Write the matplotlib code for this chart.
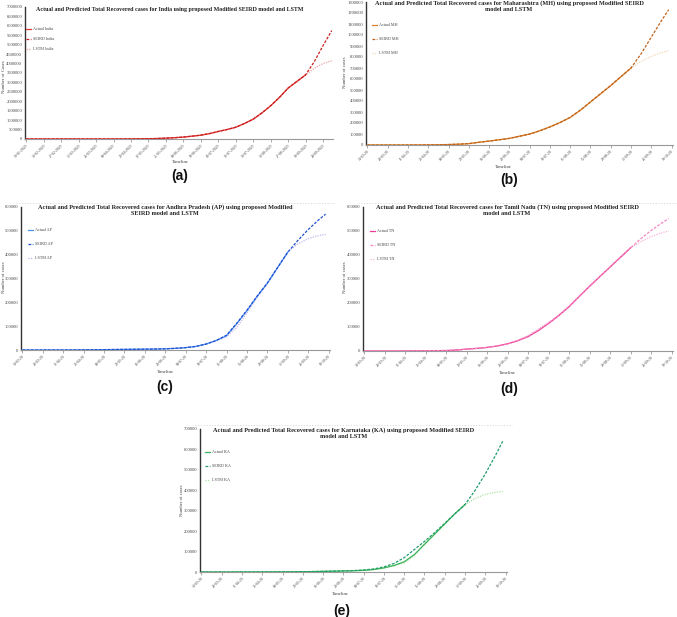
import numpy as np
import pandas as pd
import matplotlib
matplotlib.use("Agg")
import matplotlib.pyplot as plt
import matplotlib.dates as mdates
from matplotlib.lines import Line2D

plt.rcParams['font.family'] = ['Liberation Serif', 'DejaVu Serif']

W, H = 677, 617

# ---- data (thousands of recovered cases) ----
india_dates = list(pd.date_range("2020-01-30", "2020-10-01", freq="7D"))
india_ticks = pd.date_range("2020-01-30", "2020-09-24", freq="14D")
india_actual = [0, 0, 0, 0, 0, 0, 0, 0, 0.1, 0.2, 1, 2, 5, 8, 15, 25, 45, 70, 100, 150,
                200, 285, 400, 500, 620, 820, 1050, 1380, 1760, 2200, 2700, 3050, 3400]
india_seird = [0, 0, 0, 0, 0, 0, 0, 0, 0.1, 0.3, 1, 2, 5, 9, 16, 27, 47, 72, 102, 152,
               205, 290, 398, 505, 625, 825, 1055, 1385, 1765, 2205, 2700, 3050, 3400,
               4100, 4950, 5750]
india_lstm = [0, 0, 0, 0, 0, 0, 0, 0, 0.1, 0.2, 1, 2, 5, 8, 15, 26, 46, 71, 101, 151,
              202, 287, 402, 502, 622, 822, 1052, 1382, 1762, 2202, 2702, 3052, 3400,
              3750, 4000, 4150]

state_dates = list(pd.date_range("2020-03-14", "2020-10-03", freq="7D")) + [pd.Timestamp("2020-10-08")]
state_ticks = pd.date_range("2020-03-14", "2020-10-10", freq="14D")

mh_actual = [0, 0, 0, 0, 0.1, 0.3, 1, 2, 4, 7, 12, 25, 36, 48, 60, 80, 100, 130, 165, 205,
             250, 315, 390, 465, 540, 620, 700]
mh_seird = [0, 0, 0, 0, 0.2, 0.5, 1.2, 2.5, 4.5, 8, 13, 24, 35, 47, 60, 79, 99, 128, 163, 203,
            252, 318, 392, 467, 541, 621, 700, 830, 980, 1130, 1230]
mh_lstm = [0, 0, 0, 0, 0.1, 0.3, 1, 2, 4, 7, 12, 25, 36, 48, 61, 81, 101, 131, 166, 206,
           251, 316, 391, 466, 541, 620, 700, 760, 805, 840, 860]

ap_actual = [0, 0, 0, 0, 0, 0.1, 0.5, 1, 1.5, 2, 2.5, 3, 3.5, 4, 5, 7, 10, 15, 25, 40,
             60, 110, 165, 225, 280, 345, 410]
ap_seird = [0, 0, 0, 0, 0, 0.1, 0.5, 1, 1.5, 2, 2.5, 3, 3.5, 4, 5, 7, 10, 15, 25, 40,
            62, 112, 167, 226, 281, 346, 410, 460, 505, 545, 570]
ap_lstm = [0, 0, 0, 0, 0, 0.1, 0.5, 1, 1.5, 2, 2.5, 3, 3.5, 4, 5, 7, 10, 15, 25, 38,
           55, 95, 155, 220, 278, 345, 412, 445, 467, 480, 485]

tn_actual = [0, 0, 0, 0.05, 0.3, 0.8, 1, 1.5, 2, 4, 8, 11, 15, 21, 30, 43, 60, 85, 115, 148,
             185, 228, 270, 310, 350, 390, 430]
tn_seird = [0, 0, 0, 0.05, 0.3, 0.8, 1, 1.5, 2, 4, 8, 11, 15, 21, 30, 44, 62, 88, 117, 150,
            187, 229, 271, 311, 351, 391, 430, 468, 502, 532, 552]
tn_lstm = [0, 0, 0, 0.05, 0.3, 0.8, 1, 1.5, 2, 4, 8, 11, 15, 21, 30, 45, 65, 92, 120, 150,
           186, 228, 270, 310, 350, 390, 430, 455, 477, 492, 500]

ka_actual = [0, 0, 0, 0, 0.1, 0.2, 0.3, 0.5, 0.7, 1, 1.5, 2, 3, 4, 5, 6, 8, 12, 20, 32,
             50, 85, 135, 185, 235, 285, 330]
ka_seird = [0, 0, 0, 0, 0.1, 0.2, 0.3, 0.5, 0.8, 1.1, 1.6, 2.2, 3.2, 4.2, 5.5, 7, 10, 15, 25, 42,
            70, 110, 150, 192, 238, 285, 330, 400, 480, 570, 640]
ka_lstm = [0, 0, 0, 0, 0.1, 0.2, 0.3, 0.5, 0.7, 1, 1.5, 2, 3, 4, 5, 6, 8, 12, 20, 30,
           45, 80, 140, 190, 238, 286, 330, 360, 380, 390, 395]


def fx(x):
    return x / W


def fy(y):
    return 1 - y / H


def panel(fig, box, dates, actual, seird, lstm, names, colors, ticks, tickfmt, ymax, ystep,
          title, ylabel, xlab_pos, ylab_pos, letter, letter_pos, leg_pos, leg_space,
          title_pos, title_size=4.5, top_line=False):
    l, t, r, b = box
    ax = fig.add_axes([fx(l), fy(b), fx(r - l), (b - t) / H])
    n = len(actual)
    a = np.array(actual) * 1000
    s = np.array(seird) * 1000
    m = np.array(lstm) * 1000
    ax.plot(dates[:n], a, color=colors[0], lw=0.9, label=names[0], zorder=3)
    ax.plot(dates, s, color=colors[1], lw=0.9, ls=(0, (2.2, 1.2)), label=names[1], zorder=4)
    ax.plot(dates, m, color=colors[2], lw=0.9, ls=(0, (1, 1)), label=names[2], zorder=2)

    if tickfmt == "%d-%m-%y":
        right = ticks[-1] + pd.Timedelta(days=1)
    else:
        right = dates[-1] + pd.Timedelta(days=1)
    ax.set_xlim(ticks[0] - pd.Timedelta(days=1), right)
    ax.set_ylim(0, ymax)
    ax.set_xticks(ticks)
    ax.xaxis.set_major_formatter(mdates.DateFormatter(tickfmt))
    ax.set_yticks(np.arange(0, ymax + 1, ystep))
    ax.set_yticklabels([str(int(v)) for v in np.arange(0, ymax + 1, ystep)])
    ax.tick_params(axis='x', labelsize=2.7, rotation=45, length=2, width=0.5,
                   color='#888888', pad=1, labelcolor='#444444')
    ax.tick_params(axis='y', labelsize=3.3, length=0, pad=2, labelcolor='#444444')
    for lab in ax.get_xticklabels():
        lab.set_ha('right')
        lab.set_rotation_mode('anchor')
    for sp in ['top', 'right']:
        ax.spines[sp].set_visible(False)
    ax.spines['left'].set_color('#333333')
    ax.spines['left'].set_linewidth(1.0)
    ax.spines['bottom'].set_color('#999999')
    ax.spines['bottom'].set_linewidth(0.8)
    ax.patch.set_alpha(0)

    leg = ax.legend(loc='upper left', bbox_to_anchor=(fx(leg_pos[0]), fy(leg_pos[1])),
                    bbox_transform=fig.transFigure, frameon=False, fontsize=3.0,
                    handlelength=1.2, handletextpad=0.4, labelspacing=leg_space,
                    borderpad=0, borderaxespad=0)
    for txt in leg.get_texts():
        txt.set_color('#444444')

    fig.text(fx(title_pos[0]), fy(title_pos[1]), title, ha='center', va='top',
             fontsize=title_size, fontweight='bold', linespacing=1.25, color='#222222')
    fig.text(fx(xlab_pos[0]), fy(xlab_pos[1]), "Timeline", ha='center', va='center',
             fontsize=3.4, color='#444444')
    fig.text(fx(ylab_pos[0]), fy(ylab_pos[1]), ylabel, ha='center', va='center',
             rotation=90, fontsize=3.4, color='#444444')
    fig.text(fx(letter_pos[0]), fy(letter_pos[1]), letter, ha='center', va='center',
             fontsize=10, fontweight='bold', family='Liberation Sans', color='#111111')
    if top_line:
        fig.add_artist(Line2D([fx(l - 5), fx(r + 5)], [fy(t - 4), fy(t - 4)],
                              color='#bbbbbb', lw=0.4, ls=(0, (2, 3))))
    return ax


fig = plt.figure(figsize=(W / 100, H / 100), dpi=100)

panel(fig, (25, 7, 333, 139), india_dates, india_actual, india_seird, india_lstm,
      ["Actual India", "SEIRD India", "LSTM India"], ['#e03a3a', '#cc1f1f', '#eba3a3'],
      india_ticks, "%d-%m-%Y", 7000000, 500000,
      "Actual and Predicted Total Recovered cases for India using proposed Modified SEIRD model and LSTM",
      "Number of Cases", (180, 162), (4, 77), "(a)", (180, 176), (26, 27), 1.5, (170, 7),
      title_size=4.3)

panel(fig, (366, 2, 673, 145), state_dates, mh_actual, mh_seird, mh_lstm,
      ["Actual MH", "SEIRD MH", "LSTM MH"], ['#d9822b', '#c2621a', '#f0d9b5'],
      state_ticks, "%d-%m-%y", 1300000, 100000,
      "Actual and Predicted Total Recovered cases for Maharashtra (MH) using proposed Modified SEIRD\nmodel and LSTM",
      "Number of cases", (503, 167), (345, 72), "(b)", (509, 180), (372, 23), 2.4, (509, 0))

panel(fig, (21, 207, 330, 350), state_dates, ap_actual, ap_seird, ap_lstm,
      ["Actual AP", "SEIRD AP", "LSTM AP"], ['#4f93e6', '#1f4fd6', '#c4b4ec'],
      state_ticks, "%d-%m-%y", 600000, 100000,
      "Actual and Predicted Total Recovered cases for Andhra Pradesh (AP) using proposed Modified\nSEIRD model and LSTM",
      "Number of cases", (165, 372), (4, 277), "(c)", (165, 387), (28, 228), 2.4, (165, 204),
      top_line=True)

panel(fig, (363, 207, 673, 351), state_dates, tn_actual, tn_seird, tn_lstm,
      ["Actual TN", "SEIRD TN", "LSTM TN"], ['#ee3d96', '#f487c2', '#f7b5da'],
      state_ticks, "%d-%m-%y", 600000, 100000,
      "Actual and Predicted Total Recovered cases for Tamil Nadu (TN) using proposed Modified SEIRD\nmodel and LSTM",
      "Number of cases", (507, 373), (345, 277), "(d)", (509, 389), (370, 229), 2.4, (507, 204),
      top_line=True)

panel(fig, (200, 429, 507, 572), state_dates, ka_actual, ka_seird, ka_lstm,
      ["Actual KA", "SEIRD KA", "LSTM KA"], ['#3db25a', '#1f9e6a', '#ade3a5'],
      state_ticks, "%d-%m-%y", 700000, 100000,
      "Actual and Predicted Total Recovered cases for Karnataka (KA) using proposed Modified SEIRD\nmodel and LSTM",
      "Number of cases", (340, 594), (182, 500), "(e)", (342, 611), (205, 450), 2.4, (344, 427),
      top_line=True)

fig.savefig("out.png", dpi=100)
